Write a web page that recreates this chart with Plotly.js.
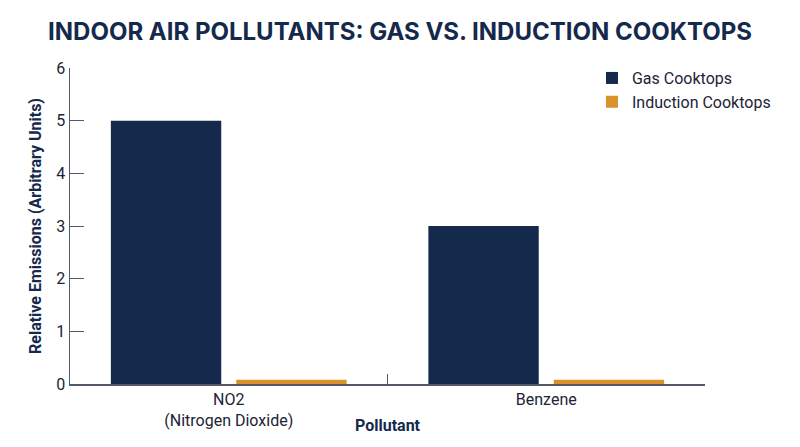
<!DOCTYPE html>
<html>
<head>
<meta charset="utf-8">
<script src="https://cdn.plot.ly/plotly-3.0.1.min.js"></script>
<style>
  html, body { margin: 0; padding: 0; background: #fff; }
  #chart { width: 800px; height: 447px; }
</style>
</head>
<body>
<div id="chart"></div>
<script>
// chart data
var pollutants = ["NO2<br>(Nitrogen Dioxide)", "Benzene"];
var gas_values = [5, 3];
var induction_values = [0.08, 0.08];
var y_ticks = [0, 1, 2, 3, 4, 5, 6];

var navy = "#15294d";
var gold = "#d9922a";

var trace_gas = {
  x: pollutants,
  y: gas_values,
  name: "Gas Cooktops",
  type: "bar",
  marker: { color: navy },
  hoverinfo: "skip"
};

var trace_induction = {
  x: pollutants,
  y: induction_values,
  name: "Induction Cooktops",
  type: "bar",
  marker: { color: gold },
  hoverinfo: "skip"
};

var layout = {
  width: 800,
  height: 447,
  margin: { l: 70, r: 95, t: 68, b: 63 },
  paper_bgcolor: "#fff",
  plot_bgcolor: "#fff",
  font: { family: "Roboto, sans-serif", size: 16, color: "#1c2436" },
  title: {
    text: "<b>INDOOR AIR POLLUTANTS: GAS VS. INDUCTION COOKTOPS</b>",
    font: { family: "Inter, Roboto, sans-serif", size: 24, color: navy },
    x: 0.5,
    xanchor: "center",
    y: 0.93,
    yanchor: "middle"
  },
  barmode: "group",
  bargap: 0.21,
  bargroupgap: 0.12,
  showlegend: true,
  legend: {
    x: 0.822, xanchor: "left",
    y: 1.022, yanchor: "top",
    font: { size: 16, color: "#1c2436" },
    bgcolor: "rgba(0,0,0,0)",
    tracegroupgap: 10
  },
  xaxis: {
    showline: true,
    linecolor: "#555b66",
    linewidth: 1.5,
    ticks: "inside",
    tickson: "boundaries",
    ticklen: 10,
    tickcolor: "#555b66",
    tickfont: { size: 16, color: "#1c2436" },
    showgrid: false,
    zeroline: false
  },
  yaxis: {
    title: { text: "<b>Relative Emissions (Arbitrary Units)</b>", font: { size: 16, color: navy }, standoff: 10 },
    range: [0, 6],
    tickvals: y_ticks,
    showline: true,
    linecolor: "#555b66",
    linewidth: 1.5,
    ticks: "inside",
    ticklen: 14,
    tickcolor: "#555b66",
    tickfont: { size: 16, color: "#1c2436" },
    showgrid: false,
    zeroline: false
  },
  annotations: [{
    text: "<b>Pollutant</b>",
    xref: "paper", yref: "paper",
    x: 0.5, y: -0.13,
    xanchor: "center", yanchor: "middle",
    showarrow: false,
    font: { size: 16, color: navy }
  }]
};

Plotly.newPlot("chart", [trace_gas, trace_induction], layout, { displayModeBar: false, staticPlot: true });
</script>
</body>
</html>
